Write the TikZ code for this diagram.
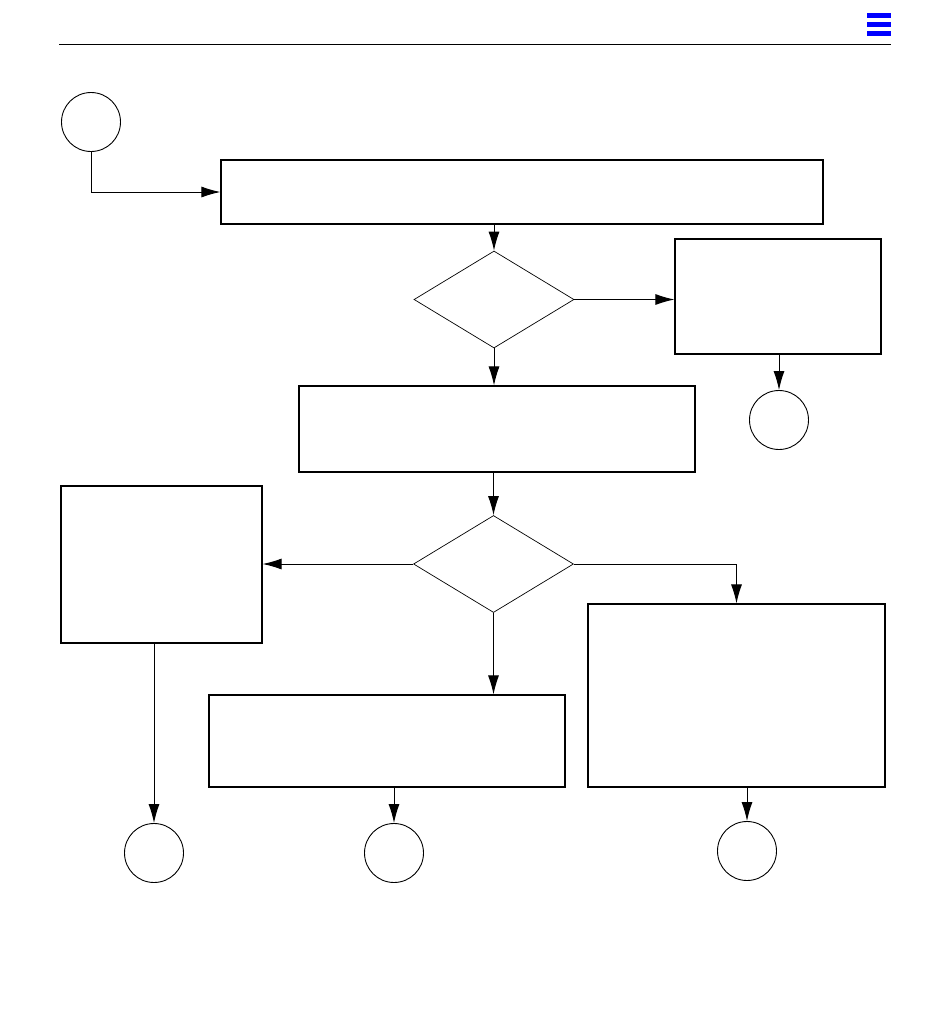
\documentclass[tikz,border=0pt]{standalone}
\usepackage{tikz}
\usepackage{xcolor}
\usetikzlibrary{arrows.meta, positioning, shapes.geometric}
\definecolor{iconblue}{HTML}{0000FF}

\begin{document}
\begin{tikzpicture}[
      x=1pt, y=-1pt,
      box/.style={draw, line width=1.1pt, rectangle, inner sep=0pt},
      decision/.style={draw, line width=0.7pt, diamond, inner sep=0pt, minimum width=160pt, minimum height=97pt},
      terminal/.style={draw, line width=0.9pt, circle, inner sep=0pt, minimum size=59pt},
      line/.style={-{Latex[length=19pt, width=11pt]}, line width=1pt}
    ]
      \useasboundingbox (0,0) rectangle (950,1010);

      % page header
      \draw[line width=1pt] (59,44) -- (891,44);
      \fill[iconblue] (867,13) rectangle (891,18);
      \fill[iconblue] (867,22) rectangle (891,27);
      \fill[iconblue] (867,31) rectangle (891,36);

      \node[terminal] (entry) at (91,122) {};
      \node[box, minimum width=602pt, minimum height=64pt] (topbox) at (522,192) {};
      \node[decision] (decideA) at (494,299.5) {};
      \node[box, minimum width=206pt, minimum height=115pt] (sidebox) at (778,296.5) {};
      \node[terminal] (endA) at (779,420) {};
      \node[box, minimum width=396pt, minimum height=86pt] (midbox) at (497,429) {};
      \node[decision] (decideB) at (493.5,564) {};
      \node[box, minimum width=201pt, minimum height=157pt] (leftbox) at (161.5,564.5) {};
      \node[box, minimum width=356pt, minimum height=92pt] (lowbox) at (387,741) {};
      \node[box, minimum width=297pt, minimum height=183pt] (rightbox) at (736.5,695.5) {};
      \node[terminal] (endB) at (154,853) {};
      \node[terminal] (endC) at (394,853) {};
      \node[terminal] (endD) at (747,851) {};

      \draw[line] (entry.south) |- (topbox.west);
      \draw[line] (topbox.south -| decideA.north) -- (decideA.north);
      \draw[line] (decideA.east) -- (sidebox.west |- decideA.east);
      \draw[line] (sidebox.south -| endA.north) -- (endA.north);
      \draw[line] (decideA.south) -- (midbox.north -| decideA.south);
      \draw[line] (midbox.south -| decideB.north) -- (decideB.north);
      \draw[line] (decideB.west) -- (leftbox.east |- decideB.west);
      \draw[line] (decideB.east) -| (rightbox.north);
      \draw[line] (decideB.south) -- (lowbox.north -| decideB.south);
      \draw[line] (leftbox.south -| endB.north) -- (endB.north);
      \draw[line] (lowbox.south -| endC.north) -- (endC.north);
      \draw[line] (rightbox.south -| endD.north) -- (endD.north);
    \end{tikzpicture}
\end{document}
